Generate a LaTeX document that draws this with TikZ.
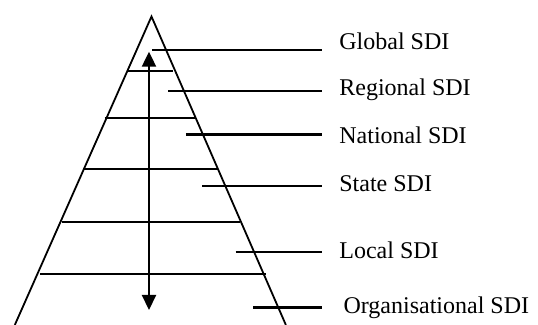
\documentclass[tikz,border=0pt]{standalone}
\usepackage{fontspec}
\setmainfont{Liberation Serif}
\usetikzlibrary{arrows.meta}
\begin{document}
\begin{tikzpicture}[x=0.5pt,y=-0.5pt,
  leg/.style={line width=0.9pt},
  band/.style={line width=1.1pt},
  leader/.style={line width=1.1pt},
  tip/.style={Triangle[length=7.5pt,width=7pt]},
  lbl/.style={anchor=base west,inner xsep=8.5pt,inner ysep=0pt,font=\fontsize{12}{14}\selectfont}]
\useasboundingbox (0,0) rectangle (538,325);
% pyramid
\coordinate (apex) at (151.5,16.5);
\coordinate (bl) at (14.8,325);
\coordinate (br) at (285.9,325);
\draw[leg] (bl) -- (apex) -- (br);
% bands
\foreach \y/\a/\b [count=\i] in {71/127.3/172.7,118/104.7/196,169.3/83.3/218.3,221.7/61.7/240,274.3/40/265.7}{
  \coordinate (bL\i) at (\a,\y);
  \coordinate (bR\i) at (\b,\y);
  \draw[band] (bL\i) -- (bR\i);
}
% arrow
\coordinate (atop) at (149,51.7);
\coordinate (abot) at (149,310);
\draw[line width=1.1pt,{Triangle[length=7.5pt,width=7pt]}-{Triangle[length=7.5pt,width=7pt]}] (atop) -- (abot);
% labels
\node[lbl] (g) at (322,50) {Global SDI};
\node[lbl] (r) at (322,96) {Regional SDI};
\node[lbl] (n) at (322,144) {National SDI};
\node[lbl] (s) at (322,191.7) {State SDI};
\node[lbl] (l) at (322,259) {Local SDI};
\node[lbl,inner xsep=10.6pt] (o) at (322,313.3) {Organisational SDI};
% leaders
\coordinate (cg) at (152.3,50);
\coordinate (cr) at (168.3,90.7);
\coordinate (cn) at (186,134.5);
\coordinate (cs) at (202.3,186);
\coordinate (cl) at (235.7,252);
\coordinate (co) at (253.3,307.5);
\draw[leader] (cg) -- (cg -| g.west);
\draw[leader] (cr) -- (cr -| r.west);
\draw[leader] (cn) -- (cn -| n.west);
\draw[leader] (cs) -- (cs -| s.west);
\draw[leader] (cl) -- (cl -| l.west);
\draw[leader] (co) -- (co -| g.west);
\end{tikzpicture}
\end{document}
